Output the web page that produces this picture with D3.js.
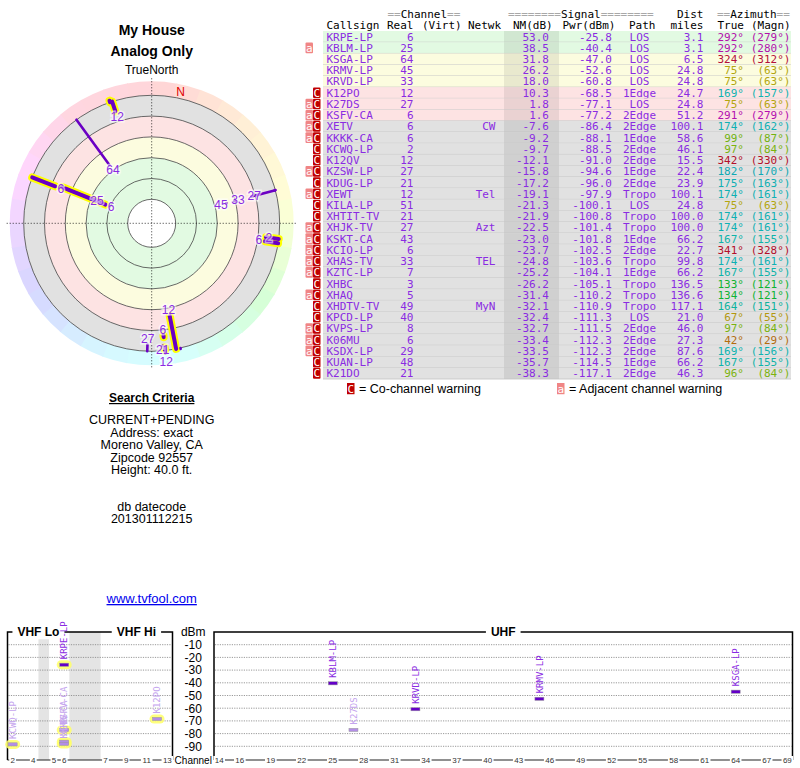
<!DOCTYPE html>
<html>
<head>
<meta charset="utf-8">
<title>My House - Analog Only</title>
<script src="https://cdn.jsdelivr.net/npm/d3@7/dist/d3.min.js"></script>
<style>
  body { margin: 0; background: #fff; }
  text { font-family: "Liberation Sans", Arial, sans-serif; }
  text.mono, .mono text { font-family: "DejaVu Sans Mono", monospace; font-size: 11px; }
</style>
</head>
<body>
<div id="wrapper"></div>
<script>
// ---- one entry per table row ----
const callsigns = ["KRPE-LP","KBLM-LP","KSGA-LP","KRMV-LP","KRVD-LP","K12PO","K27DS","KSFV-CA","XETV","KKKK-CA","KCWQ-LP","K12QV","KZSW-LP","KDUG-LP","XEWT","KILA-LP","XHTIT-TV","XHJK-TV","KSKT-CA","KCIO-LP","XHAS-TV","KZTC-LP","XHBC","XHAQ","XHDTV-TV","KPCD-LP","KVPS-LP","K06MU","KSDX-LP","KUAN-LP","K21DO"]
const channels = [6,25,64,45,33,12,27,6,6,6,2,12,27,21,12,51,21,27,43,6,33,7,3,5,49,40,8,6,29,48,21]
const networks = ["","","","","","","","","CW","","","","","","Tel","","","Azt","","","TEL","","","","MyN","","","","","",""]
const nmDb = [53.0,38.5,31.8,26.2,18.0,10.3,1.8,1.6,-7.6,-9.2,-9.7,-12.1,-15.8,-17.2,-19.1,-21.3,-21.9,-22.5,-23.0,-23.7,-24.8,-25.2,-26.2,-31.4,-32.1,-32.4,-32.7,-33.4,-33.5,-35.7,-38.3]
const pwrDbm = [-25.8,-40.4,-47.0,-52.6,-60.8,-68.5,-77.1,-77.2,-86.4,-88.1,-88.5,-91.0,-94.6,-96.0,-97.9,-100.1,-100.8,-101.4,-101.8,-102.5,-103.6,-104.1,-105.1,-110.2,-110.9,-111.3,-111.5,-112.3,-112.3,-114.5,-117.1]
const paths = ["LOS","LOS","LOS","LOS","LOS","1Edge","LOS","2Edge","2Edge","1Edge","2Edge","2Edge","1Edge","2Edge","Tropo","LOS","Tropo","Tropo","1Edge","2Edge","Tropo","1Edge","Tropo","Tropo","Tropo","LOS","2Edge","2Edge","2Edge","1Edge","2Edge"]
const distMiles = [3.1,3.1,6.5,24.8,24.8,24.7,24.8,51.2,100.1,58.6,46.1,15.5,22.4,23.9,100.1,24.8,100.0,100.0,66.2,22.7,99.8,66.2,136.5,136.6,117.1,21.0,46.0,27.3,87.6,66.2,46.3]
const azTrue = [292,292,324,75,75,169,75,291,174,99,97,342,182,175,174,75,174,174,167,341,174,167,133,134,164,67,97,42,169,167,96]
const azMagn = [279,280,312,63,63,157,63,279,162,87,84,330,170,163,161,63,161,161,155,328,161,155,121,121,151,55,84,29,156,155,84]
const warnings = ["","a","","","","C","aC","aC","aC","aC","C","C","aC","C","aC","C","C","aC","aC","aC","aC","aC","C","aC","C","C","aC","aC","aC","C","C"]
// radar: NM (dB) where each station's radial streak ends (null = off the plot)
const nmTail = [5,10,-25,24,16,-25,-25,-25,-12,-25,-25,-25,-25,-20,-25,-25,-25,-25,-25,-25,-25,null,null,null,null,null,null,null,null,null,null]

// ---- text ----
const titleLines = ["My House", "Analog Only"]
const criteriaTitle = "Search Criteria"
const criteriaLines = ["CURRENT+PENDING", "Address: exact", "Moreno Valley, CA", "Zipcode 92557", "Height: 40.0 ft."]
const datecodeLines = ["db datecode", "201301112215"]
const siteLink = "www.tvfool.com"
const headerTop = ["==Channel==", "========Signal========", "Dist", "==Azimuth=="]
const headerBottom = ["Callsign", "Real", "(Virt)", "Netwk", "NM(dB)", "Pwr(dBm)", "Path", "miles", "True", "(Magn)"]
const legendLabels = ["= Co-channel warning", "= Adjacent channel warning"]

// ---- scales / ticks ----
const ringTicks = [75, 55, 35, 15, -5, -25]        // radar rings, NM dB
const bandEdges = [75, 35, 15, -5, -25]            // green / yellow / red / gray
const bandNames = ["green", "yellow", "red", "gray"]
const vhfSlots = ["2","3","4","gapA","5","6","gapB","gapC","gapD","7","8","9","10","11","12","13"]
const vhfTickLabels = ["2","4","5","6","7","9","11","13"]
const uhfTickLabels = ["14","16","19","22","25","28","31","34","37","40","43","46","49","52","55","58","61","64","67","69"]
const dbmTicks = [-10,-20,-30,-40,-50,-60,-70,-80,-90]
const bandTitles = ["VHF Lo", "VHF Hi", "UHF"]

const dimensions = {
  radar: {cx: 151.7, cy: 223.3, inner: 24, outer: 128, hueRing: 14},
  table: {top: 31, bottom: 379, left: 323, right: 791, nmLeft: 504, nmRight: 559},
  spec: {top: 632, bottom: 759, vhfLeft: 7.5, vhfRight: 172.5, uhfLeft: 214, uhfRight: 792.5}
}

const bandFill = {green: "#e2fae2", yellow: "#fcfcdf", red: "#fde3e3", gray: "#e1e1e1"}
const purpleText = "#8a2be2"
const category = nm => bandNames[Math.min(3, d3.bisectRight(bandEdges.slice(1).map(d => -d), -nm))]
const isVhf = ch => ch <= 13

const hueScale = d3.scaleLinear()
  .domain([0, 45, 75, 100, 135, 170, 200, 290, 325, 360])
  .range([-5, 37, 55, 85, 135, 180, 190, 300, 345, 355])
const azColor = az => d3.hsl(hueScale(az), 0.85, 0.38).toString()

const svg = d3.select("#wrapper")
  .append("svg")
  .attr("width", 800)
  .attr("height", 768)

// ================= left column text =================
const left = svg.append("g").attr("text-anchor", "middle")
left.selectAll(".title").data(titleLines).join("text")
  .attr("x", dimensions.radar.cx)
  .attr("y", (d, i) => 35 + i * 21)
  .style("font-weight", "bold").style("font-size", "14px")
  .text(d => d)
left.append("text")
  .attr("x", dimensions.radar.cx).attr("y", 402)
  .style("font-weight", "bold").style("font-size", "12px")
  .style("text-decoration", "underline")
  .text(criteriaTitle)
left.selectAll(".crit").data(criteriaLines).join("text")
  .attr("x", dimensions.radar.cx)
  .attr("y", (d, i) => 424 + i * 12.5)
  .style("font-size", "12.5px")
  .text(d => d)
left.selectAll(".date").data(datecodeLines).join("text")
  .attr("x", dimensions.radar.cx)
  .attr("y", (d, i) => 510.5 + i * 12.5)
  .style("font-size", "12.5px")
  .text(d => d)
left.append("text")
  .attr("x", dimensions.radar.cx).attr("y", 603)
  .style("font-size", "13px").attr("fill", "#0000ee")
  .style("text-decoration", "underline")
  .text(siteLink)

// ================= radar =================
const R = dimensions.radar
const radar = svg.append("g").attr("transform", `translate(${R.cx},${R.cy})`)
const rScale = d3.scaleLinear().domain([75, -25]).range([R.inner, R.outer])
const arc = d3.arc()
const rad = a => a * Math.PI / 180
const polar = (az, r) => [r * Math.sin(rad(az)), -r * Math.cos(rad(az))]

radar.append("text")
  .attr("x", 0).attr("y", -R.outer - R.hueRing - 7)
  .attr("text-anchor", "middle").style("font-size", "12px")
  .text("TrueNorth")

// compass hue ring
radar.selectAll(".wedge").data(d3.range(0, 360, 10)).join("path")
  .attr("d", a => arc({innerRadius: R.outer, outerRadius: R.outer + R.hueRing,
    startAngle: rad(a), endAngle: rad(a + 10.4)}))
  .attr("fill", a => d3.hsl(hueScale(a + 5), 1, 0.92).toString())

// signal bands
radar.selectAll(".band").data(bandNames).join("path")
  .attr("d", (d, i) => arc({innerRadius: rScale(bandEdges[i]), outerRadius: rScale(bandEdges[i + 1]),
    startAngle: 0, endAngle: 2 * Math.PI}))
  .attr("fill", d => bandFill[d])

radar.selectAll(".ring").data(ringTicks).join("circle")
  .attr("r", d => rScale(d))
  .attr("fill", (d, i) => i === 0 ? "#fff" : "none")
  .attr("stroke", "#444").attr("stroke-width", 0.8)

// cross hair
const reach = R.outer + R.hueRing + 3
radar.append("line").attr("x1", -reach).attr("x2", reach)
  .attr("stroke", "#000").attr("stroke-width", 0.8).attr("stroke-dasharray", "1,2")
radar.append("line").attr("y1", -reach).attr("y2", reach)
  .attr("stroke", "#000").attr("stroke-width", 0.8).attr("stroke-dasharray", "1,2")

// magnetic north marker
const declination = d3.mean(azTrue, (d, i) => d - azMagn[i])
const nPos = polar(declination, R.outer + R.hueRing / 2)
radar.append("text")
  .attr("x", nPos[0]).attr("y", nPos[1]).attr("dy", "0.35em")
  .attr("text-anchor", "middle").attr("fill", "#e00000").style("font-size", "12px")
  .text("N")

const radarStations = d3.range(callsigns.length).filter(i => nmTail[i] !== null)
const streak = i => {
  const a = polar(azTrue[i], rScale(nmDb[i]) + 3)
  const b = polar(azTrue[i], rScale(nmTail[i]))
  return {x1: a[0], y1: a[1], x2: b[0], y2: b[1]}
}
radar.selectAll(".glow").data(radarStations.filter(i => isVhf(channels[i]))).join("line")
  .each(function(i) { d3.select(this).attr("x1", streak(i).x1).attr("y1", streak(i).y1).attr("x2", streak(i).x2).attr("y2", streak(i).y2) })
  .attr("stroke", "#ffff00").attr("stroke-width", 8).attr("stroke-linecap", "round")
radar.selectAll(".streak").data(radarStations).join("line")
  .each(function(i) { d3.select(this).attr("x1", streak(i).x1).attr("y1", streak(i).y1).attr("x2", streak(i).x2).attr("y2", streak(i).y2) })
  .attr("stroke", "#6a00c4").attr("stroke-width", d => isVhf(channels[d]) ? 4 : 2.6)
  .attr("stroke-linecap", "round")

// channel labels, pushed outward along their bearing when they would collide
const placed = []
const labelPos = radarStations.filter(i => nmDb[i] >= -20).map(i => {
  const w = String(channels[i]).length * 7 + 2
  let r = rScale(nmDb[i]) - 3
  let p = polar(azTrue[i], r)
  while (placed.some(q => Math.abs(q.x - p[0]) < (q.w + w) / 2 && Math.abs(q.y - p[1]) < 11)) {
    r += 1
    p = polar(azTrue[i], r)
  }
  const item = {i, x: p[0], y: p[1], w}
  placed.push(item)
  return item
})
radar.selectAll(".chlabel").data(labelPos).join("text")
  .attr("x", d => d.x).attr("y", d => d.y)
  .attr("dy", "0.35em").attr("text-anchor", "middle")
  .style("font-size", "12px").attr("fill", purpleText)
  .attr("stroke", "rgba(255,255,255,0.6)").attr("stroke-width", 3).attr("paint-order", "stroke")
  .text(d => channels[d.i])

// ================= station table =================
const T = dimensions.table
const table = svg.append("g").attr("class", "mono")
const yRow = d3.scaleBand().domain(d3.range(callsigns.length)).range([T.top, T.bottom])
const rowH = yRow.bandwidth()

const headTopX = [{x: 387.5, a: "start"}, {x: 508, a: "start"}, {x: 703.5, a: "end"}, {x: 717, a: "start"}]
const headBotX = [[326.5,"start"],[413.5,"end"],[422,"start"],[468,"start"],[513,"start"],[562.5,"start"],[629,"start"],[703.5,"end"],[717.5,"start"],[751,"start"]]

headerTop.forEach((label, k) => {
  const t = table.append("text").attr("x", headTopX[k].x).attr("y", 17.5).attr("text-anchor", headTopX[k].a)
  label.match(/=+|[^=]+/g).forEach(part => {
    t.append("tspan").attr("fill", part[0] === "=" ? "#a8a8a8" : "#000").text(part)
  })
})
table.selectAll(".hb").data(headerBottom).join("text")
  .attr("x", (d, k) => headBotX[k][0]).attr("y", 29)
  .attr("text-anchor", (d, k) => headBotX[k][1])
  .text(d => d)

const rows = table.selectAll(".row").data(d3.range(callsigns.length)).join("g")
  .attr("transform", i => `translate(0,${yRow(i)})`)

rows.append("rect")
  .attr("x", T.left).attr("width", T.right - T.left).attr("height", rowH)
  .attr("fill", i => bandFill[category(nmDb[i])])
rows.append("rect")
  .attr("x", T.nmLeft).attr("width", T.nmRight - T.nmLeft).attr("height", rowH)
  .attr("fill", "#000").attr("fill-opacity", 0.075)
rows.append("line")
  .attr("x1", T.left).attr("x2", T.right).attr("y1", rowH).attr("y2", rowH)
  .attr("stroke", "#c2c2c2").attr("stroke-width", 0.8)

const warnBox = (sel, xPos, fill, letter) => {
  sel.append("rect").attr("x", xPos).attr("y", 0.3).attr("width", 7.5).attr("height", rowH - 0.6)
    .attr("rx", 1).attr("fill", fill)
  sel.append("text").attr("x", xPos + 3.75).attr("y", rowH / 2).attr("dy", "0.36em")
    .attr("text-anchor", "middle").attr("fill", "#fff").text(letter)
}
rows.filter(i => warnings[i].includes("a")).call(warnBox, 305.5, "#f08585", "a")
rows.filter(i => warnings[i].includes("C")).call(warnBox, 313, "#c00000", "C")

const cells = [
  {x: 326.5, a: "start", v: i => callsigns[i]},
  {x: 413.5, a: "end", v: i => channels[i]},
  {x: 495.5, a: "end", v: i => networks[i]},
  {x: 549, a: "end", v: i => nmDb[i].toFixed(1)},
  {x: 612, a: "end", v: i => pwrDbm[i].toFixed(1)},
  {x: 639.5, a: "middle", v: i => paths[i]},
  {x: 703.5, a: "end", v: i => distMiles[i].toFixed(1)}
]
cells.forEach(c => {
  rows.append("text")
    .attr("x", c.x).attr("y", rowH / 2).attr("dy", "0.36em")
    .attr("text-anchor", c.a).attr("fill", purpleText)
    .text(c.v)
})
rows.append("text")
  .attr("x", 744).attr("y", rowH / 2).attr("dy", "0.36em")
  .attr("text-anchor", "end").attr("fill", i => azColor(azTrue[i]))
  .text(i => azTrue[i] + "°")
rows.append("text")
  .attr("x", 790.5).attr("y", rowH / 2).attr("dy", "0.36em")
  .attr("text-anchor", "end").attr("fill", i => azColor(azTrue[i]))
  .text(i => "(" + azMagn[i] + "°)")

// legend
const legend = svg.append("g").attr("transform", `translate(0,${T.bottom + 4})`)
const legendX = [347, 557]
legendX.forEach((x, k) => {
  legend.append("rect").attr("x", x).attr("width", 7.5).attr("height", rowH)
    .attr("fill", k === 0 ? "#c00000" : "#f08585")
  legend.append("text").attr("class", "mono").attr("x", x + 3.75).attr("y", rowH / 2).attr("dy", "0.36em")
    .attr("text-anchor", "middle").attr("fill", "#fff").text(k === 0 ? "C" : "a")
  legend.append("text").attr("x", x + 12).attr("y", rowH / 2).attr("dy", "0.36em")
    .style("font-size", "12.5px").text(legendLabels[k])
})

// ================= spectrum =================
const S = dimensions.spec
const spec = svg.append("g")
const yDbm = d3.scaleLinear().domain([0, -100]).range([S.top, S.bottom])
const xVhf = d3.scaleBand().domain(vhfSlots).range([S.vhfLeft, S.vhfRight])
const xUhf = d3.scaleBand().domain(d3.range(14, 70).map(String)).range([S.uhfLeft, S.uhfRight])
const chX = ch => isVhf(ch) ? xVhf(String(ch)) + xVhf.bandwidth() / 2 : xUhf(String(ch)) + xUhf.bandwidth() / 2

// gap slots in VHF
spec.selectAll(".gap").data(vhfSlots.filter(d => d.startsWith("gap"))).join("rect")
  .attr("x", d => xVhf(d)).attr("width", xVhf.bandwidth() + 0.3)
  .attr("y", S.top).attr("height", S.bottom + 1 - S.top)
  .attr("fill", "#e4e4e4")

const boxes = [[S.vhfLeft, S.vhfRight], [S.uhfLeft, S.uhfRight]]
boxes.forEach(([x0, x1]) => {
  spec.selectAll(null).data(dbmTicks).join("line")
    .attr("x1", x0 + 1).attr("x2", x1 - 1)
    .attr("y1", d => yDbm(d)).attr("y2", d => yDbm(d))
    .attr("stroke", "#808080").attr("stroke-width", 0.8).attr("stroke-dasharray", "1.2,1.2")
  spec.append("path")
    .attr("d", `M${x0},${S.bottom + 1}V${S.top}H${x1}V${S.bottom + 1}`)
    .attr("fill", "none").attr("stroke", "#000").attr("stroke-width", 1.5)
  spec.append("line")
    .attr("x1", x0).attr("x2", x1).attr("y1", S.bottom + 1).attr("y2", S.bottom + 1)
    .attr("stroke", "#222").attr("stroke-width", 1.2)
})

// band titles on the top rule
const titleX = [
  (xVhf("2") + xVhf("6") + xVhf.bandwidth()) / 2,
  (xVhf("7") + xVhf("13") + xVhf.bandwidth()) / 2,
  (S.uhfLeft + S.uhfRight) / 2
]
bandTitles.forEach((t, k) => {
  const txt = spec.append("text")
    .attr("x", titleX[k]).attr("y", S.top).attr("dy", "0.36em")
    .attr("text-anchor", "middle").style("font-weight", "bold").style("font-size", "12px")
    .text(t)
  const bb = txt.node().getBBox()
  spec.insert("rect", () => txt.node())
    .attr("x", bb.x - 5).attr("y", bb.y).attr("width", bb.width + 10).attr("height", bb.height)
    .attr("fill", "#fff")
})

// dBm axis between the boxes
const midX = (S.vhfRight + S.uhfLeft) / 2
spec.append("text").attr("x", midX).attr("y", S.top).attr("dy", "0.36em")
  .attr("text-anchor", "middle").style("font-size", "12px").text("dBm")
spec.selectAll(".ytick").data(dbmTicks).join("text")
  .attr("x", midX).attr("y", d => yDbm(d)).attr("dy", "0.36em")
  .attr("text-anchor", "middle").style("font-size", "12px")
  .text(d => d)

// channel ticks along the bottom rule
const tickData = vhfTickLabels.map(c => ({c, x: xVhf(c) + xVhf.bandwidth() / 2}))
  .concat(uhfTickLabels.map(c => ({c, x: xUhf(c) + xUhf.bandwidth() / 2})))
const ticks = spec.selectAll(".xtick").data(tickData).join("g")
  .attr("transform", d => `translate(${d.x},${S.bottom + 1})`)
ticks.append("rect").attr("x", d => -d.c.length * 2.4 - 1).attr("y", -4)
  .attr("width", d => d.c.length * 4.8 + 2).attr("height", 8).attr("fill", "#fff")
ticks.append("text").attr("dy", "0.36em").attr("text-anchor", "middle")
  .style("font-size", "8px").attr("fill", "#333")
  .text(d => d.c)
spec.append("text").attr("x", midX).attr("y", S.bottom + 1).attr("dy", "0.36em")
  .attr("text-anchor", "middle").style("font-size", "10px").text("Channel")

// station marks
const specStations = d3.range(callsigns.length).filter(i => nmDb[i] >= -10)
const strong = i => nmDb[i] >= 15
spec.selectAll(".halo").data(specStations.filter(i => isVhf(channels[i]))).join("rect")
  .attr("x", i => chX(channels[i]) - 7.5).attr("y", i => yDbm(pwrDbm[i]) - 4.5)
  .attr("width", 15).attr("height", 9).attr("rx", 4.5)
  .attr("fill", "#ffff66").attr("fill-opacity", 0.85)
spec.selectAll(".bar").data(specStations).join("rect")
  .attr("x", i => chX(channels[i]) - 4.5).attr("y", i => yDbm(pwrDbm[i]) - 1.6)
  .attr("width", 9).attr("height", 3.2)
  .attr("fill", i => strong(i) ? "#6400c8" : "#b38ee6")
  .attr("stroke", "#9a9a9a").attr("stroke-width", 0.5)
spec.selectAll(".slabel").data(specStations).join("text")
  .attr("class", "mono")
  .attr("transform", i => `translate(${chX(channels[i])},${yDbm(pwrDbm[i]) - 5.5}) rotate(-90)`)
  .attr("dy", "0.35em")
  .style("font-size", "9px")
  .attr("fill", i => strong(i) ? purpleText : "#c4a4ee")
  .text(i => callsigns[i])
</script>
</body>
</html>
